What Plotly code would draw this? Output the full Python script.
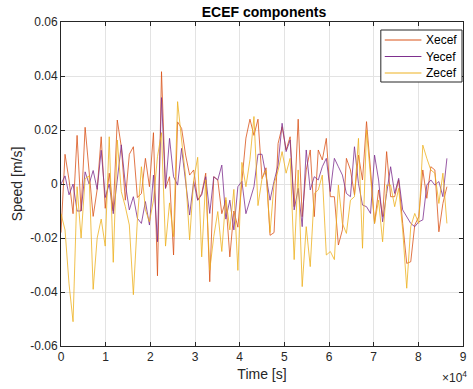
import numpy as np
import plotly.graph_objects as go

# Sample times: one day at 15-minute steps
time_s = np.arange(0, 86400 + 1, 900)

x_ecef = [
    -0.018, 0.011, 0.0015, -0.011, 0.018, -0.010, 0.021, 0.005, -0.012, -0.002,
    0.0175, -0.009, 0.004, -0.010, 0.0237, 0.0138, -0.006, 0.011, 0.0138, -0.005,
    -0.0035, 0.0095, -0.001, 0.019, -0.034, 0.0416, -0.0016, 0.0027, -0.0263, 0.023,
    0.0206, 0.0107, 0.0033, 0.0052, -0.006, -0.0035, 0.004, -0.0362, 0.0027, 0.0015,
    -0.011, -0.006, -0.027, -0.010, -0.016, 0.001, 0.017, 0.024, 0.018, 0.024,
    0.002, 0.006, -0.019, -0.018, 0.015,
    0.0212, 0.0126, 0.0175, -0.0084, 0.024, -0.0121, 0.0052, 0.0126, -0.0121, 0.0126,
    0.0089, 0.0169, -0.0047, -0.0047,
    -0.0226, -0.017, 0.0095, 0.0052, -0.004, 0.0107, 0.0015, 0.0231, 0.0052, -0.0146,
    -0.0022, -0.0121, 0.012,
    -0.0047, -0.0047, 0.0015, -0.0146, -0.0294, -0.0288, -0.0152, -0.0121, 0.0052, -0.0053,
    0.0064, 0.0052, -0.0177, -0.0072, -0.001,
]

y_ecef = [
    0.0, 0.003, -0.004, 0.0, -0.010, -0.010, 0.0045, 0.0, 0.005, -0.002,
    0.0125, -0.005, 0.0, -0.011, 0.0015, 0.0145, 0.0, -0.0096, -0.0047, -0.0127,
    -0.0146, -0.0065, -0.0152, 0.0033, -0.0214, 0.032, -0.0016, 0.0169, 0.0027, -0.0004,
    0.0132, 0.0015, -0.0115, 0.0009, -0.006, -0.004, 0.0027, -0.0109, 0.0027, 0.0015,
    0.007, -0.013, -0.006, -0.017, -0.001, 0.001, -0.011, -0.006, -0.001, 0.011,
    0.011, 0.003, -0.006, 0.001, 0.007,
    0.0225, 0.012, 0.0163, -0.0096, -0.0016, -0.0158, 0.0126, -0.0022, 0.0027, 0.0015,
    0.0064, 0.0095, -0.0028, 0.0095,
    0.0064, 0.0033, -0.0035, -0.0047, 0.0138, 0.0002, -0.0078, -0.0084, -0.0109, 0.0107,
    0.0015, -0.014, -0.0035,
    0.0064, -0.0035, 0.0021, -0.0096, -0.0121, -0.0146, -0.0158, -0.014, -0.0133, -0.0004,
    0.0015, -0.0004, 0.0009, -0.0047, 0.0095,
]

z_ecef = [
    -0.011, -0.017, -0.037, -0.051, -0.001, -0.020, 0.002, 0.003, -0.039, -0.020,
    -0.013, -0.023, 0.0175, -0.029, 0.0163, -0.0028, -0.0084, -0.0152, -0.041, -0.0133,
    0.0064, -0.0096, -0.014, -0.006, 0.0101, 0.019, -0.023, -0.007, -0.0195, 0.0305,
    0.0163, 0.0027, -0.0207, 0.0015, 0.0099, -0.027, 0.0015, -0.0319, -0.0195, -0.0102,
    -0.025, -0.005, -0.017, -0.002, -0.032, 0.008, -0.001, 0.009, 0.025, -0.008,
    0.002, 0.005, -0.018, 0.0, 0.005,
    0.012, 0.004, 0.0095, -0.028, 0.0052, -0.038, -0.0158, -0.0306, -0.0035, -0.0022,
    0.0033, -0.0263, -0.025, -0.028,
    -0.0004, -0.0146, -0.0183, -0.006, -0.0047, 0.0169, -0.0238, 0.02, 0.0015, -0.0146,
    -0.006, -0.0214, -0.0004,
    -0.0004, -0.0084, -0.0016, -0.017, -0.0386, -0.0158, -0.0109, -0.0146, 0.0144, 0.0095,
    0.0052, 0.004, -0.0072, 0.004, -0.0146,
]

series_names = ["Xecef", "Yecef", "Zecef"]
series_colors = ["#D95319", "#7E2F8E", "#EDB120"]

x_tick_vals = [0, 10000, 20000, 30000, 40000, 50000, 60000, 70000, 80000, 90000]
x_tick_text = ["0", "1", "2", "3", "4", "5", "6", "7", "8", "9"]
y_tick_vals = [-0.06, -0.04, -0.02, 0, 0.02, 0.04, 0.06]
y_tick_text = ["-0.06", "-0.04", "-0.02", "0", "0.02", "0.04", "0.06"]

FONT = "Liberation Sans, Arial, sans-serif"
AXIS_COLOR = "#262626"

W, H = 473, 389
ML, MR, MT, MB = 61, 6, 22, 43
PW, PH = W - ML - MR, H - MT - MB


def px_to_paper(px, py):
    """Convert figure pixel coordinates to paper coordinates."""
    return (px - ML) / PW, (H - MB - py) / PH


fig = go.Figure()
for name, vals, col in zip(series_names, [x_ecef, y_ecef, z_ecef], series_colors):
    fig.add_trace(go.Scatter(
        x=time_s, y=vals, mode="lines", name=name,
        line=dict(color=col, width=0.8), showlegend=False,
    ))

axis_common = dict(
    showline=True, linecolor=AXIS_COLOR, linewidth=1, mirror="ticks",
    ticks="inside", ticklen=4, tickcolor=AXIS_COLOR,
    showgrid=True, gridcolor="#e3e3e3", gridwidth=1,
    zeroline=False,
    tickfont=dict(family=FONT, size=12, color=AXIS_COLOR),
)

# Compact boxed legend in the upper-right corner
shapes = []
annotations = []
bx0, by0 = px_to_paper(384, 30)
bx1, by1 = px_to_paper(466, 82)
shapes.append(dict(type="rect", xref="paper", yref="paper",
                   x0=bx0, x1=bx1, y0=by1, y1=by0,
                   line=dict(color=AXIS_COLOR, width=1), fillcolor="white", layer="above"))
for k, (name, col) in enumerate(zip(series_names, series_colors)):
    row_y = 40 + k * 16.5
    lx0, ly = px_to_paper(388, row_y)
    lx1, _ = px_to_paper(425, row_y)
    tx, _ = px_to_paper(428, row_y)
    shapes.append(dict(type="line", xref="paper", yref="paper",
                       x0=lx0, x1=lx1, y0=ly, y1=ly,
                       line=dict(color=col, width=1), layer="above"))
    annotations.append(dict(text=name, xref="paper", yref="paper",
                            x=tx, y=ly, xanchor="left", yanchor="middle",
                            showarrow=False,
                            font=dict(family=FONT, size=12, color="black")))

# Axis exponent label
ex, ey = px_to_paper(473, 377)
annotations.append(dict(
    text="×10<sup>4</sup>", xref="paper", yref="paper",
    x=ex, y=ey, xanchor="right", yanchor="middle",
    showarrow=False, font=dict(family=FONT, size=12, color=AXIS_COLOR),
))

fig.update_layout(
    width=W, height=H,
    margin=dict(l=ML, r=MR, t=MT, b=MB),
    paper_bgcolor="white", plot_bgcolor="white",
    title=dict(
        text="<b>ECEF components</b>",
        x=(ML + PW / 2) / W, xanchor="center",
        y=1 - 12 / H, yanchor="middle",
        font=dict(family=FONT, size=14, color="black"),
    ),
    xaxis=dict(
        range=[0, 90000], tickvals=x_tick_vals, ticktext=x_tick_text,
        title=dict(text="Time [s]", font=dict(family=FONT, size=14, color=AXIS_COLOR), standoff=5),
        **axis_common,
    ),
    yaxis=dict(
        range=[-0.06, 0.06], tickvals=y_tick_vals, ticktext=y_tick_text,
        title=dict(text="Speed [m/s]", font=dict(family=FONT, size=14, color=AXIS_COLOR), standoff=4),
        **axis_common,
    ),
    showlegend=False,
    shapes=shapes,
    annotations=annotations,
)

fig.write_html("out.html")
